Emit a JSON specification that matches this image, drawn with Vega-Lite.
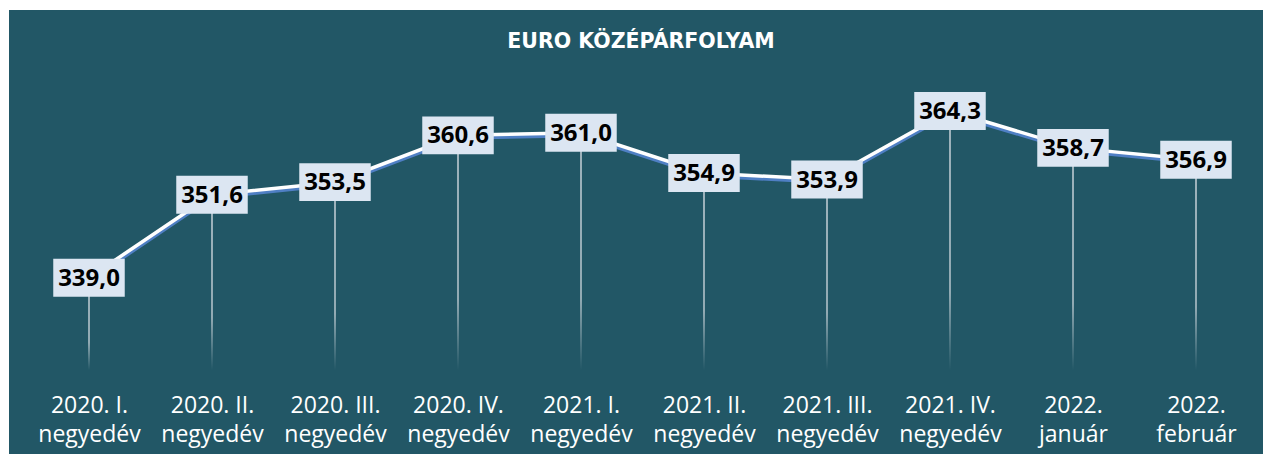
{
  "$schema": "https://vega.github.io/schema/vega-lite/v6.json",
  "width": 1254,
  "height": 444,
  "autosize": {"type": "none"},
  "padding": {"left": 9, "top": 10, "right": 0, "bottom": 0},
  "background": "white",
  "config": {
    "view": {"fill": "#225766", "stroke": null},
    "font": "Open Sans"
  },
  "title": {
    "text": "EURO KÖZÉPÁRFOLYAM",
    "font": "DejaVu Sans",
    "fontSize": 20.5,
    "fontWeight": "bold",
    "color": "white",
    "anchor": "middle",
    "offset": -58,
    "baseline": "alphabetic",
    "dx": 5,
    "limit": 0
  },
  "data": {
    "values": [
      {"period": "2020. I.|negyedév", "value": 339.0, "label": "339,0"},
      {"period": "2020. II.|negyedév", "value": 351.6, "label": "351,6"},
      {"period": "2020. III.|negyedév", "value": 353.5, "label": "353,5"},
      {"period": "2020. IV.|negyedév", "value": 360.6, "label": "360,6"},
      {"period": "2021. I.|negyedév", "value": 361.0, "label": "361,0"},
      {"period": "2021. II.|negyedév", "value": 354.9, "label": "354,9"},
      {"period": "2021. III.|negyedév", "value": 353.9, "label": "353,9"},
      {"period": "2021. IV.|negyedév", "value": 364.3, "label": "364,3"},
      {"period": "2022.|január", "value": 358.7, "label": "358,7"},
      {"period": "2022.|február", "value": 356.9, "label": "356,9"}
    ]
  },
  "encoding": {
    "x": {
      "field": "period",
      "type": "nominal",
      "sort": null,
      "scale": {"type": "point", "range": [80, 1187], "padding": 0},
      "axis": {
        "title": null,
        "orient": "bottom",
        "offset": -60,
        "domain": false,
        "ticks": false,
        "grid": false,
        "labelAngle": 0,
        "labelPadding": 0,
        "labelFont": "Open Sans",
        "labelFontSize": 23,
        "labelLineHeight": 29,
        "labelColor": "#ffffff",
        "labelExpr": "split(datum.label, '|')",
        "labelOverlap": false,
        "labelBound": false,
        "labelFlush": false,
        "labelLimit": 0
      }
    },
    "y": {
      "field": "value",
      "type": "quantitative",
      "scale": {"domain": [325, 369], "range": [360, 70], "zero": false, "nice": false},
      "axis": null
    }
  },
  "layer": [
    {
      "mark": {
        "type": "bar",
        "width": 1.5,
        "fill": {
          "gradient": "linear",
          "x1": 0, "y1": 0, "x2": 0, "y2": 1,
          "stops": [
            {"offset": 0, "color": "#c9d3da"},
            {"offset": 0.7, "color": "#b7c6cd"},
            {"offset": 1, "color": "#225766"}
          ]
        }
      },
      "encoding": {"y2": {"datum": 325}}
    },
    {
      "mark": {"type": "line", "color": "#4f7fc4", "strokeWidth": 4, "yOffset": 2.5}
    },
    {
      "mark": {"type": "line", "color": "#ffffff", "strokeWidth": 3.5}
    },
    {
      "mark": {
        "type": "point",
        "shape": "M-1,-0.53L1,-0.53L1,0.53L-1,0.53Z",
        "size": 5112,
        "filled": true,
        "fill": "#dce6f2",
        "opacity": 1,
        "strokeWidth": 0
      }
    },
    {
      "mark": {
        "type": "text",
        "font": "Open Sans",
        "fontSize": 24,
        "fontWeight": "bold",
        "color": "#000000",
        "baseline": "middle",
        "align": "center",
        "dy": 1
      },
      "encoding": {"text": {"field": "label"}}
    }
  ]
}
